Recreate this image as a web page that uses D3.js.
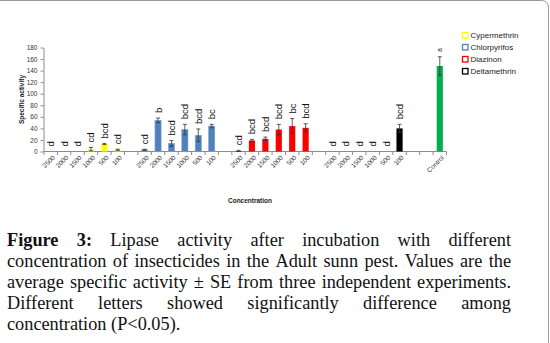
<!DOCTYPE html>
<html>
<head>
<meta charset="utf-8">
<script src="https://cdn.jsdelivr.net/npm/d3@7"></script>
<style>
  html, body { margin: 0; padding: 0; background: #fff; }
  svg { display: block; }
</style>
</head>
<body>
<svg id="fig" width="550" height="343"></svg>
<script>
// concentrations tested for every insecticide
const concLabels = ["2500", "2000", "1500", "1000", "500", "100"];
const insecticides = ["Cypermethrin", "Chlorpyrifos", "Diazinon", "Deltamethrin"];
const barColors = ["#FFFF00", "#4F81BD", "#FF0000", "#000000"];

// mean specific activity, SE and significance letters per concentration
const cyperValues = [0, 0, 0, 4, 13, 3];
const cyperErrors = [0, 0, 0, 3, 1, 1];
const cyperLetters = ["d", "d", "d", "cd", "bcd", "cd"];

const chlorValues = [3, 54, 14, 38, 28, 44];
const chlorErrors = [1, 4, 5, 9, 11, 3];
const chlorLetters = ["cd", "b", "bcd", "bcd", "bcd", "bc"];

const diazValues = [1, 19, 22, 38, 44, 41];
const diazErrors = [1, 2, 3, 9, 13, 7];
const diazLetters = ["cd", "bcd", "bcd", "bcd", "bc", "bcd"];

const deltaValues = [0, 0, 0, 0, 0, 40];
const deltaErrors = [0, 0, 0, 0, 0, 7];
const deltaLetters = ["d", "d", "d", "d", "d", "bcd"];

const controlValue = 148;
const controlError = 16;
const controlLetter = "a";

const yTicks = [0, 20, 40, 60, 80, 100, 120, 140, 160, 180];

const captionLines = [
  "Figure 3: Lipase activity after incubation with different",
  "concentration of insecticides in the Adult sunn pest. Values are the",
  "average specific activity \u00B1 SE from three independent experiments.",
  "Different letters showed significantly difference among",
  "concentration (P<0.05)."
];

// build the row list: six concentrations per insecticide, blank slots between groups
const seriesValues = [cyperValues, chlorValues, diazValues, deltaValues];
const seriesErrors = [cyperErrors, chlorErrors, diazErrors, deltaErrors];
const seriesLetters = [cyperLetters, chlorLetters, diazLetters, deltaLetters];

const rows = [];
insecticides.forEach((name, g) => {
  concLabels.forEach((c, i) => {
    rows.push({
      key: name + "-" + c,
      label: c,
      value: seriesValues[g][i],
      error: seriesErrors[g][i],
      letter: seriesLetters[g][i],
      color: barColors[g]
    });
  });
  rows.push({ key: "gap" + g, label: "" });
});
rows.push({ key: "gap-extra", label: "" });
rows.push({
  key: "Control", label: "Control", value: controlValue,
  error: controlError, letter: controlLetter, color: "#00B050", small: true
});

const svg = d3.select("#fig");

// outer frame (top edge and rounded right edge)
svg.append("path")
  .attr("d", "M0,0.5 H541 Q548.5,0.5 548.5,8 V343")
  .attr("fill", "none")
  .attr("stroke", "#9a9a9a")
  .attr("stroke-width", 1);

const x = d3.scaleBand()
  .domain(rows.map(d => d.key))
  .range([44, 446.5])
  .padding(0);

const y = d3.scaleLinear()
  .domain([0, 180])
  .range([151.5, 47.5]);

const axisColor = "#8c8c8c";
const barW = x.bandwidth() * 0.46;

// y axis
const yAxis = svg.append("g")
  .attr("transform", "translate(43.5,0)")
  .call(d3.axisLeft(y).tickValues(yTicks).tickSize(3).tickSizeOuter(0));
yAxis.select(".domain").attr("stroke", axisColor);
yAxis.selectAll(".tick line").attr("stroke", axisColor);
yAxis.selectAll(".tick text")
  .attr("x", -6)
  .attr("fill", "#333")
  .style("font-family", "Liberation Sans, Arial, sans-serif")
  .style("font-size", "6.5px");

// x axis line with ticks on category boundaries
const xAxis = svg.append("g");
xAxis.append("line")
  .attr("x1", x.range()[0]).attr("x2", x.range()[1])
  .attr("y1", y(0)).attr("y2", y(0))
  .attr("stroke", axisColor);
const bounds = rows.map(d => x(d.key)).concat([x.range()[1]]);
xAxis.selectAll(".xt")
  .data(bounds)
  .join("line")
  .attr("x1", d => d).attr("x2", d => d)
  .attr("y1", y(0)).attr("y2", y(0) + 3.5)
  .attr("stroke", axisColor);

xAxis.selectAll(".xl")
  .data(rows.filter(d => d.label))
  .join("text")
  .attr("transform", d => `translate(${x(d.key) + x.bandwidth() / 2 + 3},${y(0) + 5}) rotate(-45)`)
  .attr("text-anchor", "end")
  .attr("dy", "0.35em")
  .attr("fill", "#333")
  .style("font-family", "Liberation Sans, Arial, sans-serif")
  .style("font-size", "6.5px")
  .text(d => d.label);

const data = rows.filter(d => d.value !== undefined);

// bars
svg.append("g").selectAll("rect")
  .data(data)
  .join("rect")
  .attr("x", d => x(d.key) + (x.bandwidth() - barW) / 2)
  .attr("y", d => y(d.value))
  .attr("width", barW)
  .attr("height", d => y(0) - y(d.value))
  .attr("fill", d => d.color)
  .attr("stroke", d => d.color === "#4F81BD" ? "#7ea3d3" : "none")
  .attr("stroke-width", 0.6);

// error bars
const eb = svg.append("g").attr("stroke", "#333").attr("stroke-width", 0.8);
data.filter(d => d.error > 0).forEach(d => {
  const cx = x(d.key) + x.bandwidth() / 2;
  const lo = Math.max(0, d.value - d.error);
  const hi = d.value + d.error;
  eb.append("line").attr("x1", cx).attr("x2", cx).attr("y1", y(lo)).attr("y2", y(hi));
  eb.append("line").attr("x1", cx - 2).attr("x2", cx + 2).attr("y1", y(hi)).attr("y2", y(hi));
  eb.append("line").attr("x1", cx - 2).attr("x2", cx + 2).attr("y1", y(lo)).attr("y2", y(lo));
});

// significance letters above each bar
svg.append("g").selectAll("text")
  .data(data)
  .join("text")
  .attr("transform", d => `translate(${x(d.key) + x.bandwidth() / 2},${y(d.value + d.error) - 5}) rotate(-90)`)
  .attr("text-anchor", "start")
  .attr("dominant-baseline", "central")
  .attr("fill", "#111")
  .style("font-family", "Liberation Sans, Arial, sans-serif")
  .style("font-size", d => d.small ? "6.5px" : "9.5px")
  .text(d => d.letter);

// axis titles
svg.append("text")
  .attr("transform", "translate(21,99.5) rotate(-90)")
  .attr("text-anchor", "middle")
  .attr("dominant-baseline", "central")
  .style("font-family", "Liberation Sans, Arial, sans-serif")
  .style("font-size", "6.5px")
  .style("font-weight", "bold")
  .attr("fill", "#222")
  .text("Specific activity");

svg.append("text")
  .attr("x", 250).attr("y", 202.5)
  .attr("text-anchor", "middle")
  .style("font-family", "Liberation Sans, Arial, sans-serif")
  .style("font-size", "6.5px")
  .style("font-weight", "bold")
  .attr("fill", "#222")
  .text("Concentration");

// legend
const legend = svg.append("g").attr("transform", "translate(462,32)");
insecticides.forEach((name, i) => {
  const row = legend.append("g").attr("transform", `translate(0,${i * 12})`);
  row.append("rect")
    .attr("x", 0.5).attr("y", 0.5).attr("width", 5.5).attr("height", 5.5)
    .attr("fill", "#fff").attr("stroke", barColors[i]).attr("stroke-width", 1.3);
  row.append("text")
    .attr("x", 8.5).attr("y", 3.5)
    .attr("dominant-baseline", "central")
    .style("font-family", "Liberation Sans, Arial, sans-serif")
    .style("font-size", "8px")
    .attr("fill", "#222")
    .text(name);
});

// caption, justified except the last line
const cap = svg.append("g")
  .style("font-family", "Liberation Serif, Times New Roman, serif")
  .style("font-size", "18.3px")
  .attr("fill", "#111");
const left = 7, right = 511;
captionLines.forEach((line, li) => {
  const words = line.split(" ");
  const baseY = 246 + li * 21;
  const nodes = words.map((w, wi) => cap.append("text")
    .attr("y", baseY)
    .style("font-weight", li === 0 && wi < 2 ? "bold" : "normal")
    .text(w));
  const widths = nodes.map(n => n.node().getComputedTextLength());
  const total = d3.sum(widths);
  const last = li === captionLines.length - 1;
  const gap = last ? 4.6 : (right - left - total) / (words.length - 1);
  let cx = left;
  nodes.forEach((n, i) => {
    n.attr("x", cx);
    cx += widths[i] + gap;
  });
});
</script>
</body>
</html>
